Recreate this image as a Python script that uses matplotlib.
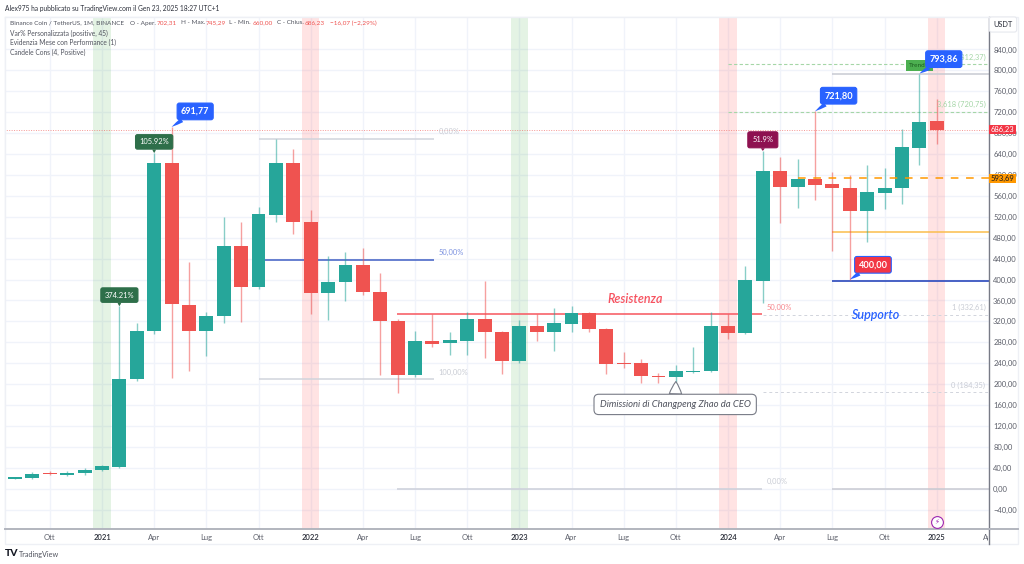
import matplotlib
matplotlib.use('Agg')
import matplotlib.pyplot as plt
from matplotlib.patches import Rectangle
from matplotlib.transforms import Bbox

plt.rcParams['font.family'] = ['Lato', 'DejaVu Sans']

# monthly candles, first one is Aug 2020
first_month = -5   # months from Jan 2021
opens = [19, 20.5, 29, 25.6, 29.5, 36, 42, 209, 301, 622, 352, 302, 331, 464, 386, 524, 622, 510, 374, 395,
         428, 375.6, 320, 218, 283, 278, 283, 325, 299.6, 245, 311, 299.6, 315.5, 336.7, 305.5, 240, 240, 216,
         213.6, 224, 225.7, 311, 298, 398, 607, 577, 592, 582, 575.6, 531, 566, 575, 652, 702.3]
closes = [22, 28, 28.5, 30, 36.3, 43, 210, 301, 622, 352.6, 302, 331, 463.6, 386, 525, 622, 510, 374, 395, 428,
          375.6, 320, 218, 282, 276.7, 284, 325, 299.6, 245, 311, 299.6, 316, 336.7, 305, 238.5, 239, 215.5, 213.6,
          225, 225.7, 311, 298, 398.5, 607, 577, 592, 581.5, 575, 531, 567, 575.6, 653, 702, 686.2]
highs = [23, 32.5, 33, 33, 39, 46, 349, 316, 642, 691.77, 433, 338, 519, 510, 539, 669, 650, 533, 445, 452,
         460, 412, 324, 301.6, 335, 299, 338, 398, 301.6, 322.6, 335, 345, 349, 338.5, 308, 261, 248, 221,
         236.6, 271.6, 337, 333.5, 426, 646, 635, 631, 721.8, 606, 600, 619, 612.7, 687, 793.86, 745.29]
lows = [18, 18, 26, 24, 26, 34, 40, 206, 296, 211, 225, 254, 317, 319, 381, 510, 488, 335, 322.6, 359.5,
        370, 218, 183.6, 213, 271.6, 255.6, 255.6, 249, 219, 240, 282.5, 264, 300, 300, 219, 231, 202, 203,
        205, 222, 224, 287, 296.5, 355.7, 507.5, 536, 551.5, 454.6, 400, 471, 535, 544, 619, 660]

ytick_vals = [-40, 0, 40, 80, 120, 160, 200, 240, 280, 320, 360, 400, 440, 480, 520, 560, 600, 640, 680, 720, 760, 800, 840]
ytick_labels = ['−40,00', '0,00', '40,00', '80,00', '120,00', '160,00', '200,00', '240,00', '280,00', '320,00',
                '360,00', '400,00', '440,00', '480,00', '520,00', '560,00', '600,00', '640,00', '680,00', '720,00',
                '760,00', '800,00', '840,00']
xtick_vals = [-3, 0, 3, 6, 9, 12, 15, 18, 21, 24, 27, 30, 33, 36, 39, 42, 45, 48, 51]
xtick_labels = ['Ott', '2021', 'Apr', 'Lug', 'Ott', '2022', 'Apr', 'Lug', 'Ott', '2023', 'Apr', 'Lug', 'Ott',
                '2024', 'Apr', 'Lug', 'Ott', '2025', 'Apr']
green_bands = [0, 24]
red_bands = [12, 36, 48]

GREEN = '#26a69a'
RED = '#ef5350'
BLUE = '#2962ff'
GREY_TXT = '#50535e'
W, H = 1024, 564


def px(x, y):
    return x / W, 1 - y / H


fig = plt.figure(figsize=(W / 100, H / 100), dpi=100)
ax = fig.add_axes([5 / W, 1 - 529 / H, 984 / W, 512 / H])
ax.set_xlim((5 - 102) / 17.39, (989 - 102) / 17.39)
ax.set_ylim((488.7 - 529) / 0.5229, (488.7 - 17) / 0.5229)

ax.set_axisbelow(True)
ax.grid(True, color='#f0f3fa', lw=1)
ax.set_yticks(ytick_vals, ytick_labels)
ax.set_xticks(xtick_vals, xtick_labels)
ax.yaxis.tick_right()
ax.tick_params(length=0, labelsize=5.5, labelcolor='#5d606b', pad=3)
ax.tick_params(axis='x', pad=3.5)
for lab in ax.get_xticklabels():
    if lab.get_text().startswith('20'):
        lab.set_color('#2a2e39')
        lab.set_fontweight('semibold')
# the last month label is cut by the price scale
last = ax.get_xticklabels()[-1]
last.set_clip_on(True)
last.set_clip_box(Bbox([[0, 0], [988, 564]]))

for s in ['top', 'left']:
    ax.spines[s].set_color('#eef0f5')
    ax.spines[s].set_linewidth(1)
ax.spines['right'].set_color('#787b86')
ax.spines['right'].set_linewidth(1)
ax.spines['bottom'].set_color('#b2b5be')
ax.spines['bottom'].set_linewidth(1.4)

# year bands
for m in green_bands:
    ax.axvspan(m - 0.5, m + 0.5, color='#4caf50', alpha=0.15, lw=0, zorder=1)
for m in red_bands:
    ax.axvspan(m - 0.5, m + 0.5, color='#ff5252', alpha=0.16, lw=0, zorder=1)

# candles
months = [first_month + i for i in range(len(opens))]
colors = [GREEN if c >= o else RED for o, c in zip(opens, closes)]
ax.vlines(months, lows, highs, colors=colors, lw=1, alpha=0.55, zorder=2)
bottoms = [min(o, c) for o, c in zip(opens, closes)]
heights = [max(abs(c - o), 1.2) for o, c in zip(opens, closes)]
ax.bar(months, heights, bottom=bottoms, width=0.8, color=colors, lw=0, zorder=3)

# fib and level lines
ax.hlines(686.23, -6, 51, color='#ef5350', lw=0.7, ls=(0, (1, 1.5)), alpha=0.6, zorder=2.5)
ax.hlines(669, 9, 19.1, color='#d1d4dc', lw=1.1, zorder=1.5)
ax.hlines(438, 9.4, 19.1, color='#3f5fc4', lw=1.1, zorder=1.5)
ax.hlines(209, 9, 19.1, color='#d1d4dc', lw=1.1, zorder=1.5)
ax.hlines(333.5, 16.95, 37.97, color='#f7626a', lw=1.2, zorder=1.5)
ax.hlines(0, 16.95, 37.97, color='#cfd2dc', lw=1.2, zorder=1.5)
ax.hlines(794, 42, 51, color='#c8cad2', lw=1.1, zorder=1.5)
ax.hlines(490, 42, 51, color='#fbbd4c', lw=1.1, zorder=1.5)
ax.hlines(396.6, 42, 51, color='#3a55c0', lw=1.3, zorder=1.5)
ax.hlines(0, 42, 51, color='#c8cad2', lw=1.1, zorder=1.5)
ax.hlines(332.6, 38, 51, color='#d1d4dc', lw=0.7, ls=(0, (3, 3)), zorder=1.5)
ax.hlines(184.35, 38, 51, color='#d1d4dc', lw=0.7, ls=(0, (3, 3)), zorder=1.5)
ax.hlines(720.75, 36, 51, color='#a5d6a7', lw=0.8, ls=(0, (3, 2)), zorder=1.5)
ax.hlines(812.37, 36, 51, color='#a5d6a7', lw=0.8, ls=(0, (3, 2)), zorder=1.5)
ax.hlines(593.69, 40.0, 51, color='#ff9800', lw=1.1, ls=(0, (5, 5)), zorder=3.5)

# fib labels
lw_kw = dict(fontsize=5.4, va='center', zorder=6)
ax.annotate('0,00%', (19.1, 669), xytext=(3, 5), textcoords='offset points', color='#c9ccd4', **lw_kw)
ax.annotate('50,00%', (19.1, 438), xytext=(3, 5), textcoords='offset points', color='#7d93e0', **lw_kw)
ax.annotate('100,00%', (19.1, 209), xytext=(3, 5), textcoords='offset points', color='#c9ccd4', **lw_kw)
ax.annotate('50,00%', (37.97, 333.5), xytext=(3, 5), textcoords='offset points', color='#f7868c', **lw_kw)
ax.annotate('0,00%', (37.97, 0), xytext=(3, 5), textcoords='offset points', color='#c9ccd4', **lw_kw)
ax.annotate('1 (332,61)', (50.8, 332.6), xytext=(0, 5), textcoords='offset points', ha='right', color='#c9ccd4', **lw_kw)
ax.annotate('0 (184,35)', (50.8, 184.35), xytext=(0, 5), textcoords='offset points', ha='right', color='#c9ccd4', **lw_kw)
ax.annotate('3,618 (720,75)', (50.8, 720.75), xytext=(0, 5), textcoords='offset points', ha='right', color='#a5d6a7', **lw_kw)
ax.annotate('4,236 (812,37)', (50.8, 812.37), xytext=(0, 5), textcoords='offset points', ha='right', color='#a5d6a7', **lw_kw)


def tag(m, val, text, fc, ec, size, dx, dy, tc='white', weight='bold', pad=0.42):
    ax.annotate(text, (m, val), xytext=(dx, dy), textcoords='offset points', ha='center', va='center',
                color=tc, fontsize=size, fontweight=weight, zorder=9,
                bbox=dict(boxstyle=f'round,pad={pad},rounding_size=0.25', fc=fc, ec=ec, lw=0.8),
                arrowprops=dict(arrowstyle='wedge,tail_width=0.5,shrink_factor=0.6', fc=ec,
                                ec='none', shrinkA=0, shrinkB=0))


# small performance flags above the candles
tag(1, 349, '374.21%', '#2e6f4a', '#2e6f4a', 5.4, 0, 8, weight='normal', pad=0.5)
tag(3, 642, '105.92%', '#2e6f4a', '#2e6f4a', 5.4, 0, 8, weight='normal', pad=0.5)
tag(38, 646, '51.9%', '#8e1150', '#8e1150', 5.4, 0, 8, weight='normal', pad=0.6)
ax.annotate('Trend+', (47, 794), xytext=(0, 5.6), textcoords='offset points', ha='center', va='center',
            fontsize=4.6, color='#1b5e20', zorder=8,
            bbox=dict(boxstyle='square,pad=0.5', fc='#4caf50', ec='#4caf50', lw=0))

# blue price callouts
tag(4, 691.77, '691,77', BLUE, BLUE, 6.6, 17, 11.2)
tag(41, 721.8, '721,80', BLUE, BLUE, 6.6, 17, 11.2)
tag(47, 793.86, '793,86', BLUE, BLUE, 6.6, 17.6, 10.4)
tag(43, 400, '400,00', '#f23645', BLUE, 6.6, 16.7, 10.6)

# news note with the pointer on the Oct 2023 candle
ax.annotate('Dimissioni di Changpeng Zhao da CEO', (33, 205), xytext=(-0.5, -16.5), textcoords='offset points',
            ha='center', va='center', fontsize=6.8, style='italic', color=GREY_TXT, zorder=9,
            bbox=dict(boxstyle='round,pad=0.6,rounding_size=0.5', fc='white', ec='#787b86', lw=0.8),
            arrowprops=dict(arrowstyle='wedge,tail_width=1.3,shrink_factor=0.6', fc='white', ec='#787b86', lw=0.8,
                            shrinkA=0, shrinkB=0))

ax.annotate('Resistenza', (29.08, 333.5), xytext=(0, 11), textcoords='offset points', ha='left', va='center',
            fontsize=9, style='italic', fontweight='semibold', color='#f7525f', zorder=8)
ax.annotate('Supporto', (43.1, 332), xytext=(0, 0), textcoords='offset points', ha='left', va='center',
            fontsize=9, style='italic', fontweight='semibold', color='#2962ff', zorder=8)

# flash icon in the 2025 band
ax.plot([48], [-63], marker='o', ms=8.5, mfc='white', mec='#9c27b0', mew=0.8, zorder=8, clip_on=False)
ax.text(48, -63, '⚡', fontsize=5, color='#9c27b0', ha='center', va='center', zorder=9)

# price scale tags
scale_tr = ax.get_yaxis_transform()
for val, text, fc, tc in [(686.23, '686,23', '#f23645', 'white'), (593.69, '593,69', '#ff9800', '#131722')]:
    ax.add_patch(Rectangle((1, val - 8.8), 27 / 984, 17.6, transform=scale_tr, fc=fc, ec='none', clip_on=False, zorder=10))
    ax.text(1 + 13.5 / 984, val, text, transform=scale_tr, ha='center', va='center', fontsize=5.5, color=tc, zorder=11, clip_on=False)

# page texts
x, y = px(5, 8)
fig.text(x, y, 'Alex975 ha pubblicato su TradingView.com il Gen 23, 2025 18:27 UTC+1', fontsize=4.75, color='#2a2e39', va='center')
x, y = px(1003, 24.5)
fig.text(x, y, 'USDT', fontsize=5.3, color='#2a2e39', ha='center', va='center',
         bbox=dict(boxstyle='round,pad=0.55,rounding_size=0.3', fc='white', ec='#e6e8ee', lw=0.8))
legend_parts = [('Binance Coin / TetherUS, 1M, BINANCE', 10, GREY_TXT), ('O - Aper.', 130, GREY_TXT), ('702,31', 156.5, RED),
                ('H - Max.', 181, GREY_TXT), ('745,29', 206, RED), ('L - Min.', 229, GREY_TXT), ('660,00', 253, RED),
                ('C - Chius.', 277, GREY_TXT), ('686,23', 305, RED), ('−16,07 (−2,29%)', 329.5, RED)]
for part, xp, col in legend_parts:
    x, y = px(xp, 23)
    fig.text(x, y, part, fontsize=4.6, color=col, va='center')
for yy, line in [(33, 'Var% Personalizzata (positive, 45)'), (42.5, 'Evidenzia Mese con Performance (1)'), (52, 'Candele Cons (4, Positive)')]:
    x, y = px(10, yy)
    fig.text(x, y, line, fontsize=4.75, color=GREY_TXT, va='center')
x, y = px(5, 554)
fig.text(x, y, 'TV', fontsize=7.5, fontweight='black', color='#131722', va='center')
x, y = px(19, 554)
fig.text(x, y, 'TradingView', fontsize=5.2, color=GREY_TXT, va='center')

# outer frame of the screenshot
fig.add_artist(Rectangle(px(5, 544), 1013 / W, 527 / H, transform=fig.transFigure, fc='none', ec='#eef0f5', lw=1, zorder=0))
fig.add_artist(plt.Line2D([989 / W, 989 / W], [1 - 544 / H, 1 - 529 / H], color='#787b86', lw=1))
fig.add_artist(plt.Line2D([989 / W, 1018 / W], [1 - 529 / H, 1 - 529 / H], color='#b2b5be', lw=1.4))

fig.savefig('out.png', dpi=100)
